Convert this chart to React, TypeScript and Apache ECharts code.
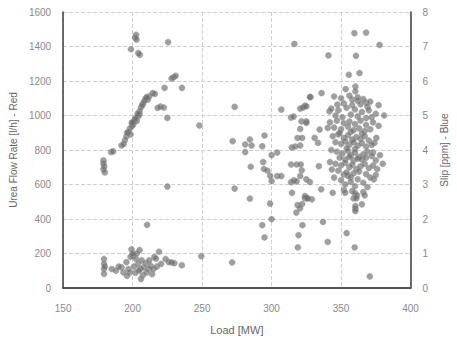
import React, { useEffect, useRef } from "react";
import * as echarts from "echarts";

// Load [MW] vs Urea flow rate [l/h] (left axis)
const ureaPoints: number[][] = [
  // left diagonal cluster
  [179, 740], [179, 722], [179.5, 705], [179, 688], [180, 670], [184.5, 788], [186, 792],
  [192, 826], [193.5, 834], [194.5, 856], [195.5, 878], [197, 905], [198.5, 890], [198, 924],
  [199.5, 938], [200.5, 948], [199.3, 958], [201.5, 975], [203, 968], [204, 994], [205, 1008],
  [205, 1024], [206, 1046], [207.5, 1070], [209.5, 1100], [211, 1092], [212, 1112], [214.5, 1130],
  [216, 1125], [218, 1044], [220, 1052], [222.5, 1046], [225, 986], [223, 1160], [229.5, 1222],
  [231, 1230], [228, 1214], [235.5, 1160], [248, 942], [202.5, 1468], [201.8, 1452], [202.8, 1440],
  [225.5, 1425], [198.8, 1384], [204, 1362], [205.2, 1352], [196, 900], [200, 960], [202, 985],
  [203.5, 1010], [207, 1060], [208.5, 1085], [210, 1105],
  // middle scatter
  [273.4, 1050], [316.4, 1415], [285, 703], [294, 730], [297, 680], [294.5, 690], [299, 650],
  [300, 620], [273.4, 576], [284.4, 518], [298.9, 489], [300, 399], [293.3, 364], [294.9, 293],
  [304, 649], [307, 649], [314, 613], [316, 624], [318, 618], [314, 716], [318, 716], [321, 716],
  [321.7, 682], [320.6, 649], [314.7, 552], [324, 520], [325.7, 520], [318.7, 481], [322, 487],
  [317.8, 437], [320.5, 462], [322.2, 364], [319.4, 306], [318.9, 235], [307, 1034], [314, 988],
  [316, 994], [320.6, 1040], [324, 1057], [322.5, 1045], [328, 1107], [321.5, 966], [325, 966],
  [320.6, 922], [318.7, 870], [322, 870], [272, 851], [284.4, 861], [285.6, 826], [281, 832],
  [294.9, 884], [293.3, 822], [281, 788], [300, 770], [304, 785], [314.5, 814], [317, 820],
  [320.6, 826],
  // right region
  [359.6, 1477], [368, 1480], [377.7, 1409], [340.9, 1348], [360.7, 1346], [355.6, 1236],
  [363.3, 1246], [353.3, 1153], [360.3, 1168], [360.3, 1140], [336, 1130], [327.6, 1107],
  [358, 1092], [362, 1085], [368, 1075], [347.4, 1063], [325, 1053], [341.6, 1024], [325, 957],
  [334.6, 918], [340.4, 928], [331, 870], [333.4, 841], [375.4, 870], [374, 841], [373, 786],
  [334, 706], [325, 630], [327.6, 614], [343.4, 687], [352, 658], [355, 650], [357, 641],
  [335.7, 572], [344, 552], [352, 568], [353, 552], [358, 562], [360, 550], [361.5, 537],
  [366, 556], [367, 537], [359, 520], [361, 520], [365, 485], [360.3, 475], [360.3, 460],
  [360.3, 446], [324, 533], [326, 520], [329, 514], [337, 383], [354, 318], [340.4, 267],
  [359.8, 235], [370.7, 67], [377, 1060], [381, 1000], [373.6, 630],
  // dense cluster
  [345, 1110], [350, 1100], [356, 1115], [362, 1105], [366, 1095], [371, 1080], [352, 1070],
  [358, 1060], [364, 1065], [369, 1050], [343, 1040], [348, 1030], [354, 1045], [360, 1035],
  [365, 1020], [370, 1030], [375, 1010], [346, 1000], [351, 990], [357, 1005], [362, 995],
  [368, 985], [372, 990], [342, 960], [347, 970], [352, 955], [356, 965], [360, 950], [364, 970],
  [368, 945], [373, 960], [377, 940], [345, 930], [350, 920], [355, 935], [359, 915], [363, 925],
  [367, 910], [371, 920], [349, 900], [357, 905], [365, 895], [344, 880], [348, 890], [352, 870],
  [355, 885], [358, 860], [361, 875], [364, 865], [367, 880], [370, 855], [346, 845], [350, 835],
  [353, 850], [356, 830], [359, 845], [362, 825], [365, 840], [368, 820], [372, 830], [354, 810],
  [360, 805], [343, 800], [347, 790], [351, 780], [355, 795], [357, 770], [360, 785], [363, 760],
  [366, 775], [369, 790], [372, 765], [349, 755], [353, 745], [356, 760], [359, 740], [362, 750],
  [365, 745], [368, 755], [375, 740], [378, 770], [342, 730], [346, 720], [350, 710], [353, 725],
  [356, 700], [358, 715], [361, 690], [364, 705], [367, 720], [370, 695], [373, 710], [348, 680],
  [354, 670], [359, 665], [363, 675], [368, 660], [376, 690], [380, 720], [345, 640], [350, 625],
  [357, 615], [362, 630], [366, 610], [371, 640], [375, 655], [353, 600], [360, 590], [369, 585],
];

// Load [MW] vs Slip [ppm] (right axis)
const slipPoints: number[][] = [
  [179.4, 0.84], [179.4, 0.7], [179.4, 0.55], [179.4, 0.41], [180, 0.62], [185, 0.55], [192, 0.6],
  [193.4, 0.45], [195.5, 0.75], [197, 0.55], [198, 0.45], [199.2, 1.12], [200.4, 0.94], [205, 1.1],
  [202.5, 0.84], [204, 0.7], [205.5, 0.55], [207.4, 0.37], [202, 0.44], [209.5, 0.72], [211.5, 0.55],
  [213, 0.64], [215.6, 0.9], [216.8, 0.85], [219, 1.05], [223.7, 0.84], [226, 0.75], [228, 0.74],
  [230, 0.72], [235.4, 0.66], [249.4, 0.92], [206, 0.26], [215, 0.55], [271.6, 0.74], [210.4, 1.83],
  [225, 2.94], [188, 0.5], [190, 0.62], [196, 0.35], [198.5, 0.9], [201, 0.62], [203, 1.0],
  [206.5, 0.8], [208, 0.6], [210, 0.45], [212, 0.8], [214, 0.4], [217.5, 0.62], [220.5, 0.7],
  [200, 1.0], [204.5, 0.5],
];

const xTicks = { min: 150, max: 400, interval: 50 };
const leftTicks = { min: 0, max: 1600, interval: 200 };
const rightTicks = { min: 0, max: 8, interval: 1 };

const FONT = "Liberation Sans";
const FRAME = { show: true, lineStyle: { color: "#4a4a4a", width: 1.6 } };

export default function App() {
  const ref = useRef<HTMLDivElement>(null);
  useEffect(() => {
    if (!ref.current) return;
    const chart = echarts.init(ref.current, undefined, { renderer: "svg" });
    const dot = {
      color: "rgba(105,105,105,0.8)",
      borderColor: "rgba(150,150,150,0.6)",
      borderWidth: 1,
    };
    const plain = (v: number) => String(v);
    chart.setOption({
      animation: false,
      backgroundColor: "#fff",
      grid: { left: 63, right: 37, top: 12, bottom: 51 },
      xAxis: [
        {
          type: "value",
          ...xTicks,
          name: "Load [MW]",
          nameLocation: "middle",
          nameGap: 36,
          nameTextStyle: { color: "#666", fontSize: 11, fontFamily: FONT },
          axisLine: FRAME,
          axisTick: { show: false },
          axisLabel: { color: "#8a8a8a", fontSize: 10, fontFamily: FONT, margin: 15, formatter: plain },
          splitLine: { show: true, lineStyle: { color: "#cfcfcf", type: "dashed", width: 1 } },
        },
        {
          type: "value",
          ...xTicks,
          position: "top",
          axisLine: FRAME,
          axisTick: { show: false },
          axisLabel: { show: false },
          splitLine: { show: false },
        },
      ],
      yAxis: [
        {
          type: "value",
          ...leftTicks,
          name: "Urea Flow Rate [l/h] - Red",
          nameLocation: "middle",
          nameRotate: 90,
          nameGap: 42,
          nameTextStyle: { color: "#666", fontSize: 10, fontFamily: FONT },
          axisLine: FRAME,
          axisTick: { show: false },
          axisLabel: { color: "#8a8a8a", fontSize: 10, fontFamily: FONT, margin: 12, formatter: plain },
          splitLine: { show: true, lineStyle: { color: "#cfcfcf", type: "dashed", width: 1 } },
        },
        {
          type: "value",
          ...rightTicks,
          position: "right",
          name: "Slip [ppm] - Blue",
          nameLocation: "middle",
          nameRotate: 90,
          nameGap: 19,
          nameTextStyle: { color: "#666", fontSize: 10, fontFamily: FONT },
          axisLine: FRAME,
          axisTick: { show: false },
          axisLabel: { color: "#8a8a8a", fontSize: 10, fontFamily: FONT, margin: 12, formatter: plain },
          splitLine: { show: false },
        },
      ],
      series: [
        {
          name: "Urea",
          type: "scatter",
          yAxisIndex: 0,
          data: ureaPoints,
          symbolSize: 6,
          itemStyle: dot,
        },
        {
          name: "Slip",
          type: "scatter",
          yAxisIndex: 1,
          data: slipPoints,
          symbolSize: 6,
          itemStyle: dot,
        },
      ],
    });
    return () => chart.dispose();
  }, []);
  return (
    <div
      ref={ref}
      style={{ position: "fixed", left: 0, top: 0, width: 457, height: 340, background: "#fff" }}
    />
  );
}
